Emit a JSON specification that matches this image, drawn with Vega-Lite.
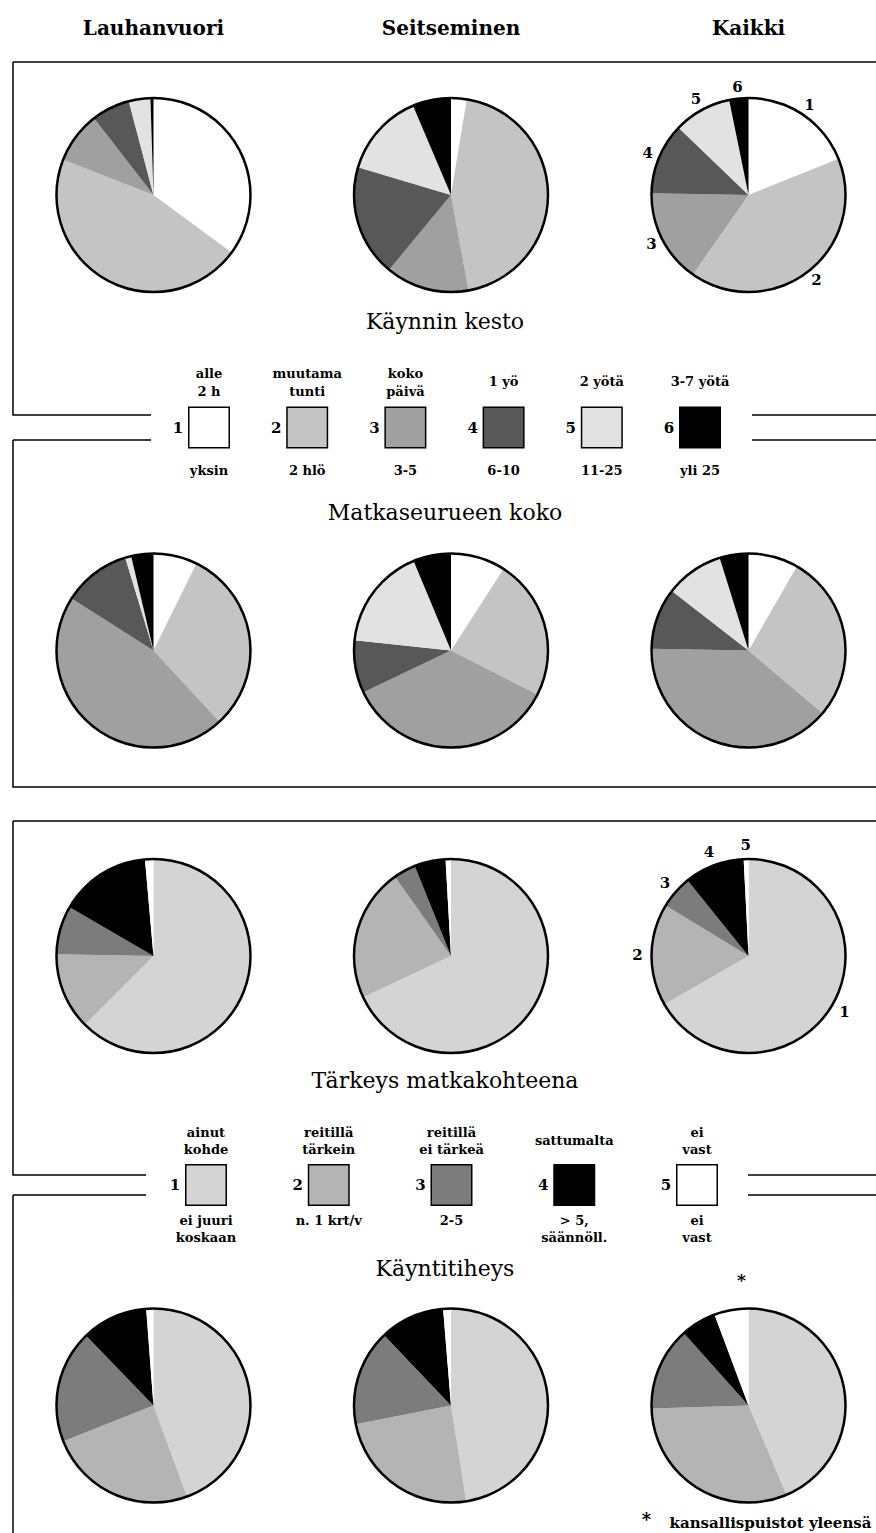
{
  "$schema": "https://vega.github.io/schema/vega-lite/v6.json",
  "padding": {"left": 12, "top": 0, "right": 0, "bottom": 0},
  "bounds": "flush",
  "spacing": 0,
  "config": {"view": {"stroke": null}, "font": "DejaVu Serif"},
  "resolve": {"scale": {"x": "independent", "y": "independent", "color": "independent", "theta": "independent"}},
  "datasets": {
    "kesto": [
      {"site": "Lauhanvuori", "cat": "1", "value": 35.1}, {"site": "Lauhanvuori", "cat": "2", "value": 45.8}, {"site": "Lauhanvuori", "cat": "3", "value": 8.6}, {"site": "Lauhanvuori", "cat": "4", "value": 6.4}, {"site": "Lauhanvuori", "cat": "5", "value": 3.6}, {"site": "Lauhanvuori", "cat": "6", "value": 0.5},
      {"site": "Seitseminen", "cat": "1", "value": 2.6}, {"site": "Seitseminen", "cat": "2", "value": 44.5}, {"site": "Seitseminen", "cat": "3", "value": 13.9}, {"site": "Seitseminen", "cat": "4", "value": 18.6}, {"site": "Seitseminen", "cat": "5", "value": 14.0}, {"site": "Seitseminen", "cat": "6", "value": 6.4},
      {"site": "Kaikki", "cat": "1", "value": 18.9}, {"site": "Kaikki", "cat": "2", "value": 40.8}, {"site": "Kaikki", "cat": "3", "value": 15.6}, {"site": "Kaikki", "cat": "4", "value": 11.9}, {"site": "Kaikki", "cat": "5", "value": 9.6}, {"site": "Kaikki", "cat": "6", "value": 3.2}
    ],
    "seurue": [
      {"site": "Lauhanvuori", "cat": "1", "value": 7.3}, {"site": "Lauhanvuori", "cat": "2", "value": 30.8}, {"site": "Lauhanvuori", "cat": "3", "value": 45.9}, {"site": "Lauhanvuori", "cat": "4", "value": 11.3}, {"site": "Lauhanvuori", "cat": "5", "value": 1.0}, {"site": "Lauhanvuori", "cat": "6", "value": 3.7},
      {"site": "Seitseminen", "cat": "1", "value": 9.1}, {"site": "Seitseminen", "cat": "2", "value": 23.4}, {"site": "Seitseminen", "cat": "3", "value": 35.4}, {"site": "Seitseminen", "cat": "4", "value": 8.8}, {"site": "Seitseminen", "cat": "5", "value": 17.0}, {"site": "Seitseminen", "cat": "6", "value": 6.3},
      {"site": "Kaikki", "cat": "1", "value": 8.3}, {"site": "Kaikki", "cat": "2", "value": 27.9}, {"site": "Kaikki", "cat": "3", "value": 39.1}, {"site": "Kaikki", "cat": "4", "value": 10.2}, {"site": "Kaikki", "cat": "5", "value": 9.7}, {"site": "Kaikki", "cat": "6", "value": 4.8}
    ],
    "tarkeys": [
      {"site": "Lauhanvuori", "cat": "1", "value": 62.5}, {"site": "Lauhanvuori", "cat": "2", "value": 12.8}, {"site": "Lauhanvuori", "cat": "3", "value": 8.1}, {"site": "Lauhanvuori", "cat": "4", "value": 15.2}, {"site": "Lauhanvuori", "cat": "5", "value": 1.4},
      {"site": "Seitseminen", "cat": "1", "value": 68.0}, {"site": "Seitseminen", "cat": "2", "value": 22.2}, {"site": "Seitseminen", "cat": "3", "value": 3.7}, {"site": "Seitseminen", "cat": "4", "value": 5.2}, {"site": "Seitseminen", "cat": "5", "value": 0.9},
      {"site": "Kaikki", "cat": "1", "value": 66.7}, {"site": "Kaikki", "cat": "2", "value": 17.0}, {"site": "Kaikki", "cat": "3", "value": 5.5}, {"site": "Kaikki", "cat": "4", "value": 10.0}, {"site": "Kaikki", "cat": "5", "value": 0.8}
    ],
    "tiheys": [
      {"site": "Lauhanvuori", "cat": "1", "value": 44.4}, {"site": "Lauhanvuori", "cat": "2", "value": 24.6}, {"site": "Lauhanvuori", "cat": "3", "value": 18.8}, {"site": "Lauhanvuori", "cat": "4", "value": 11.0}, {"site": "Lauhanvuori", "cat": "5", "value": 1.2},
      {"site": "Seitseminen", "cat": "1", "value": 47.5}, {"site": "Seitseminen", "cat": "2", "value": 24.4}, {"site": "Seitseminen", "cat": "3", "value": 16.0}, {"site": "Seitseminen", "cat": "4", "value": 10.8}, {"site": "Seitseminen", "cat": "5", "value": 1.3},
      {"site": "Kaikki", "cat": "1", "value": 43.6}, {"site": "Kaikki", "cat": "2", "value": 30.9}, {"site": "Kaikki", "cat": "3", "value": 13.9}, {"site": "Kaikki", "cat": "4", "value": 5.9}, {"site": "Kaikki", "cat": "5", "value": 5.7}
    ],
    "legend1": [
      {"cat": "1", "top": "alle\n2 h", "bottom": "yksin"},
      {"cat": "2", "top": "muutama\ntunti", "bottom": "2 hlö"},
      {"cat": "3", "top": "koko\npäivä", "bottom": "3-5"},
      {"cat": "4", "top": "1 yö", "bottom": "6-10"},
      {"cat": "5", "top": "2 yötä", "bottom": "11-25"},
      {"cat": "6", "top": "3-7 yötä", "bottom": "yli 25"}
    ],
    "legend2": [
      {"cat": "1", "top": "ainut\nkohde", "bottom": "ei juuri\nkoskaan"},
      {"cat": "2", "top": "reitillä\ntärkein", "bottom": "n. 1 krt/v"},
      {"cat": "3", "top": "reitillä\nei tärkeä", "bottom": "2-5"},
      {"cat": "4", "top": "sattumalta", "bottom": "> 5,\nsäännöll."},
      {"cat": "5", "top": "ei\nvast", "bottom": "ei\nvast"}
    ]
  },
  "vconcat": [
    {
      "width": 864, "height": 62,
      "data": {"values": [{"site": "Lauhanvuori"}, {"site": "Seitseminen"}, {"site": "Kaikki"}]},
      "mark": {"type": "text", "fontSize": 20, "fontWeight": "bold", "dy": -2},
      "encoding": {
        "x": {"field": "site", "type": "nominal", "axis": null, "scale": {"type": "point", "domain": ["Lauhanvuori", "Seitseminen", "Kaikki"], "padding": 0.452, "align": 0.5223}},
        "text": {"field": "site"}
      }
    },
    {
      "width": 864, "height": 266,
      "view": {"stroke": "black", "strokeWidth": 1.5, "strokeDash": [864, 1130, 266, 0]},
      "data": {"name": "kesto"},
      "transform": [{"stack": "value", "groupby": ["site"], "sort": [{"field": "cat", "order": "ascending"}], "as": ["v0", "v1"]}],
      "layer": [
        {
          "mark": {"type": "arc", "outerRadius": 97},
          "encoding": {
            "x": {"field": "site", "type": "nominal", "axis": null, "scale": {"type": "point", "domain": ["Lauhanvuori", "Seitseminen", "Kaikki"], "padding": 0.452, "align": 0.5223}},
            "theta": {"field": "v0", "type": "quantitative", "scale": {"domain": [0, 100]}},
            "theta2": {"field": "v1"},
            "color": {"field": "cat", "type": "nominal", "legend": null, "scale": {"domain": ["1", "2", "3", "4", "5", "6"], "range": ["#ffffff", "#c4c4c4", "#a0a0a0", "#585858", "#e2e2e2", "#000000"]}}
          }
        },
        {
          "transform": [{"filter": "datum.cat == '1'"}],
          "mark": {"type": "point", "shape": "circle", "size": 37636, "filled": false, "stroke": "black", "strokeWidth": 2.5, "opacity": 1},
          "encoding": {
            "x": {"field": "site", "type": "nominal", "axis": null, "scale": {"type": "point", "domain": ["Lauhanvuori", "Seitseminen", "Kaikki"], "padding": 0.452, "align": 0.5223}}
          }
        },
        {
          "transform": [{"filter": "datum.site == 'Kaikki'"}],
          "mark": {"type": "text", "radius": 109, "fontSize": 15, "fontWeight": "bold"},
          "encoding": {
            "x": {"field": "site", "type": "nominal", "axis": null, "scale": {"type": "point", "domain": ["Lauhanvuori", "Seitseminen", "Kaikki"], "padding": 0.452, "align": 0.5223}},
            "theta": {"field": "value", "type": "quantitative", "stack": true, "scale": {"domain": [0, 100]}},
            "order": {"field": "cat"},
            "detail": {"field": "cat"},
            "text": {"field": "cat"}
          }
        }
      ]
    },
    {
      "width": 864, "height": 87,
      "view": {"stroke": "black", "strokeWidth": 1.5, "strokeDash": [0, 951, 125, 601, 225, 0]},
      "layer": [
        {
          "data": {"values": [{"t": "Käynnin kesto"}]},
          "mark": {"type": "text", "fontSize": 22, "dy": -50},
          "encoding": {"text": {"field": "t"}}
        },
        {
          "data": {"name": "legend1"},
          "transform": [{"filter": "indexof(datum.top, '\\n') >= 0"}],
          "mark": {"type": "text", "fontSize": 13, "fontWeight": "bold", "lineBreak": "\n", "lineHeight": 18, "dy": 2},
          "encoding": {
            "x": {"field": "cat", "type": "nominal", "axis": null, "scale": {"type": "point", "domain": ["1", "2", "3", "4", "5", "6"], "range": [196, 687], "padding": 0}},
            "text": {"field": "top"}
          }
        },
        {
          "data": {"name": "legend1"},
          "transform": [{"filter": "indexof(datum.top, '\\n') < 0"}],
          "mark": {"type": "text", "fontSize": 13, "fontWeight": "bold", "dy": 10.5},
          "encoding": {
            "x": {"field": "cat", "type": "nominal", "axis": null, "scale": {"type": "point", "domain": ["1", "2", "3", "4", "5", "6"], "range": [196, 687], "padding": 0}},
            "text": {"field": "top"}
          }
        }
      ]
    },
    {
      "width": 864, "height": 25,
      "data": {"name": "legend1"},
      "layer": [
        {
          "mark": {"type": "square", "size": 1640, "filled": true, "stroke": "black", "strokeWidth": 1.5, "opacity": 1},
          "encoding": {
            "x": {"field": "cat", "type": "nominal", "axis": null, "scale": {"type": "point", "domain": ["1", "2", "3", "4", "5", "6"], "range": [196, 687], "padding": 0}},
            "color": {"field": "cat", "type": "nominal", "legend": null, "scale": {"domain": ["1", "2", "3", "4", "5", "6"], "range": ["#ffffff", "#c4c4c4", "#a0a0a0", "#585858", "#e2e2e2", "#000000"]}}
          }
        },
        {
          "mark": {"type": "text", "fontSize": 15, "fontWeight": "bold", "dx": -31},
          "encoding": {
            "x": {"field": "cat", "type": "nominal", "axis": null, "scale": {"type": "point", "domain": ["1", "2", "3", "4", "5", "6"], "range": [196, 687], "padding": 0}},
            "text": {"field": "cat"}
          }
        }
      ]
    },
    {
      "width": 864, "height": 74,
      "view": {"stroke": "black", "strokeWidth": 1.5, "strokeDash": [138, 601, 125, 938, 74, 0]},
      "layer": [
        {
          "data": {"name": "legend1"},
          "mark": {"type": "text", "fontSize": 13, "fontWeight": "bold", "dy": -6},
          "encoding": {
            "x": {"field": "cat", "type": "nominal", "axis": null, "scale": {"type": "point", "domain": ["1", "2", "3", "4", "5", "6"], "range": [196, 687], "padding": 0}},
            "text": {"field": "bottom"}
          }
        },
        {
          "data": {"values": [{"t": "Matkaseurueen koko"}]},
          "mark": {"type": "text", "fontSize": 22, "dy": 36},
          "encoding": {"text": {"field": "t"}}
        }
      ]
    },
    {
      "width": 864, "height": 273,
      "view": {"stroke": "black", "strokeWidth": 1.5, "strokeDash": [0, 1137, 1137, 0]},
      "data": {"name": "seurue"},
      "transform": [{"stack": "value", "groupby": ["site"], "sort": [{"field": "cat", "order": "ascending"}], "as": ["v0", "v1"]}],
      "layer": [
        {
          "mark": {"type": "arc", "outerRadius": 97},
          "encoding": {
            "x": {"field": "site", "type": "nominal", "axis": null, "scale": {"type": "point", "domain": ["Lauhanvuori", "Seitseminen", "Kaikki"], "padding": 0.452, "align": 0.5223}},
            "theta": {"field": "v0", "type": "quantitative", "scale": {"domain": [0, 100]}},
            "theta2": {"field": "v1"},
            "color": {"field": "cat", "type": "nominal", "legend": null, "scale": {"domain": ["1", "2", "3", "4", "5", "6"], "range": ["#ffffff", "#c4c4c4", "#a0a0a0", "#585858", "#e2e2e2", "#000000"]}}
          }
        },
        {
          "transform": [{"filter": "datum.cat == '1'"}],
          "mark": {"type": "point", "shape": "circle", "size": 37636, "filled": false, "stroke": "black", "strokeWidth": 2.5, "opacity": 1},
          "encoding": {
            "x": {"field": "site", "type": "nominal", "axis": null, "scale": {"type": "point", "domain": ["Lauhanvuori", "Seitseminen", "Kaikki"], "padding": 0.452, "align": 0.5223}}
          }
        }
      ]
    },
    {
      "width": 864, "height": 34,
      "data": {"values": [{"t": ""}]},
      "mark": "text",
      "encoding": {"text": {"field": "t"}}
    },
    {
      "width": 864, "height": 270,
      "view": {"stroke": "black", "strokeWidth": 1.5, "strokeDash": [864, 1134, 270, 0]},
      "data": {"name": "tarkeys"},
      "transform": [{"stack": "value", "groupby": ["site"], "sort": [{"field": "cat", "order": "ascending"}], "as": ["v0", "v1"]}],
      "layer": [
        {
          "mark": {"type": "arc", "outerRadius": 97},
          "encoding": {
            "x": {"field": "site", "type": "nominal", "axis": null, "scale": {"type": "point", "domain": ["Lauhanvuori", "Seitseminen", "Kaikki"], "padding": 0.452, "align": 0.5223}},
            "theta": {"field": "v0", "type": "quantitative", "scale": {"domain": [0, 100]}},
            "theta2": {"field": "v1"},
            "color": {"field": "cat", "type": "nominal", "legend": null, "scale": {"domain": ["1", "2", "3", "4", "5"], "range": ["#d4d4d4", "#b4b4b4", "#7c7c7c", "#000000", "#ffffff"]}}
          }
        },
        {
          "transform": [{"filter": "datum.cat == '1'"}],
          "mark": {"type": "point", "shape": "circle", "size": 37636, "filled": false, "stroke": "black", "strokeWidth": 2.5, "opacity": 1},
          "encoding": {
            "x": {"field": "site", "type": "nominal", "axis": null, "scale": {"type": "point", "domain": ["Lauhanvuori", "Seitseminen", "Kaikki"], "padding": 0.452, "align": 0.5223}}
          }
        },
        {
          "transform": [{"filter": "datum.site == 'Kaikki'"}],
          "mark": {"type": "text", "radius": 111, "fontSize": 15, "fontWeight": "bold"},
          "encoding": {
            "x": {"field": "site", "type": "nominal", "axis": null, "scale": {"type": "point", "domain": ["Lauhanvuori", "Seitseminen", "Kaikki"], "padding": 0.452, "align": 0.5223}},
            "theta": {"field": "value", "type": "quantitative", "stack": true, "scale": {"domain": [0, 100]}},
            "order": {"field": "cat"},
            "detail": {"field": "cat"},
            "text": {"field": "cat"}
          }
        }
      ]
    },
    {
      "width": 864, "height": 84,
      "view": {"stroke": "black", "strokeWidth": 1.5, "strokeDash": [0, 948, 129, 602, 217, 0]},
      "layer": [
        {
          "data": {"values": [{"t": "Tärkeys matkakohteena"}]},
          "mark": {"type": "text", "fontSize": 22, "dy": -52},
          "encoding": {"text": {"field": "t"}}
        },
        {
          "data": {"name": "legend2"},
          "transform": [{"filter": "indexof(datum.top, '\\n') >= 0"}],
          "mark": {"type": "text", "fontSize": 13, "fontWeight": "bold", "lineBreak": "\n", "lineHeight": 17, "dy": 0},
          "encoding": {
            "x": {"field": "cat", "type": "nominal", "axis": null, "scale": {"type": "point", "domain": ["1", "2", "3", "4", "5"], "range": [193, 684], "padding": 0}},
            "text": {"field": "top"}
          }
        },
        {
          "data": {"name": "legend2"},
          "transform": [{"filter": "indexof(datum.top, '\\n') < 0"}],
          "mark": {"type": "text", "fontSize": 13, "fontWeight": "bold", "dy": 8},
          "encoding": {
            "x": {"field": "cat", "type": "nominal", "axis": null, "scale": {"type": "point", "domain": ["1", "2", "3", "4", "5"], "range": [193, 684], "padding": 0}},
            "text": {"field": "top"}
          }
        }
      ]
    },
    {
      "width": 864, "height": 20,
      "data": {"name": "legend2"},
      "layer": [
        {
          "mark": {"type": "square", "size": 1640, "filled": true, "stroke": "black", "strokeWidth": 1.5, "opacity": 1},
          "encoding": {
            "x": {"field": "cat", "type": "nominal", "axis": null, "scale": {"type": "point", "domain": ["1", "2", "3", "4", "5"], "range": [193, 684], "padding": 0}},
            "color": {"field": "cat", "type": "nominal", "legend": null, "scale": {"domain": ["1", "2", "3", "4", "5"], "range": ["#d4d4d4", "#b4b4b4", "#7c7c7c", "#000000", "#ffffff"]}}
          }
        },
        {
          "mark": {"type": "text", "fontSize": 15, "fontWeight": "bold", "dx": -31},
          "encoding": {
            "x": {"field": "cat", "type": "nominal", "axis": null, "scale": {"type": "point", "domain": ["1", "2", "3", "4", "5"], "range": [193, 684], "padding": 0}},
            "text": {"field": "cat"}
          }
        }
      ]
    },
    {
      "width": 864, "height": 95,
      "view": {"stroke": "black", "strokeWidth": 1.5, "strokeDash": [133, 602, 129, 959, 95, 0]},
      "resolve": {"scale": {"x": "independent"}},
      "layer": [
        {
          "data": {"name": "legend2"},
          "mark": {"type": "text", "fontSize": 13, "fontWeight": "bold", "lineBreak": "\n", "lineHeight": 17, "dy": -22},
          "encoding": {
            "x": {"field": "cat", "type": "nominal", "axis": null, "scale": {"type": "point", "domain": ["1", "2", "3", "4", "5"], "range": [193, 684], "padding": 0}},
            "text": {"field": "bottom"}
          }
        },
        {
          "data": {"values": [{"t": "Käyntitiheys"}]},
          "mark": {"type": "text", "fontSize": 22, "dy": 26},
          "encoding": {"text": {"field": "t"}}
        },
        {
          "data": {"values": [{"site": "Kaikki", "t": "*"}]},
          "mark": {"type": "text", "fontSize": 17, "fontWeight": "bold", "dx": -7, "dy": 38},
          "encoding": {
            "x": {"field": "site", "type": "nominal", "axis": null, "scale": {"type": "point", "domain": ["Lauhanvuori", "Seitseminen", "Kaikki"], "padding": 0.452, "align": 0.5223}},
            "text": {"field": "t"}
          }
        }
      ]
    },
    {
      "width": 864, "height": 231,
      "view": {"stroke": "black", "strokeWidth": 1.5, "strokeDash": [0, 1959, 231, 0]},
      "data": {"name": "tiheys"},
      "transform": [{"stack": "value", "groupby": ["site"], "sort": [{"field": "cat", "order": "ascending"}], "as": ["v0", "v1"]}],
      "layer": [
        {
          "mark": {"type": "arc", "outerRadius": 97},
          "encoding": {
            "x": {"field": "site", "type": "nominal", "axis": null, "scale": {"type": "point", "domain": ["Lauhanvuori", "Seitseminen", "Kaikki"], "padding": 0.452, "align": 0.5223}},
            "theta": {"field": "v0", "type": "quantitative", "scale": {"domain": [0, 100]}},
            "theta2": {"field": "v1"},
            "color": {"field": "cat", "type": "nominal", "legend": null, "scale": {"domain": ["1", "2", "3", "4", "5"], "range": ["#d4d4d4", "#b4b4b4", "#7c7c7c", "#000000", "#ffffff"]}}
          }
        },
        {
          "transform": [{"filter": "datum.cat == '1'"}],
          "mark": {"type": "point", "shape": "circle", "size": 37636, "filled": false, "stroke": "black", "strokeWidth": 2.5, "opacity": 1},
          "encoding": {
            "x": {"field": "site", "type": "nominal", "axis": null, "scale": {"type": "point", "domain": ["Lauhanvuori", "Seitseminen", "Kaikki"], "padding": 0.452, "align": 0.5223}}
          }
        }
      ]
    },
    {
      "width": 864, "height": 12,
      "view": {"stroke": "black", "strokeWidth": 1.5, "strokeDash": [0, 1740, 12, 0]},
      "data": {"values": [{"site": "Kaikki", "star": "*", "t": "kansallispuistot yleensä"}]},
      "layer": [
        {
          "mark": {"type": "text", "fontSize": 18, "fontWeight": "bold", "dx": -102, "dy": -6},
          "encoding": {
            "x": {"field": "site", "type": "nominal", "axis": null, "scale": {"type": "point", "domain": ["Lauhanvuori", "Seitseminen", "Kaikki"], "padding": 0.452, "align": 0.5223}},
            "text": {"field": "star"}
          }
        },
        {
          "mark": {"type": "text", "fontSize": 15, "fontWeight": "bold", "dx": 22, "dy": -4},
          "encoding": {
            "x": {"field": "site", "type": "nominal", "axis": null, "scale": {"type": "point", "domain": ["Lauhanvuori", "Seitseminen", "Kaikki"], "padding": 0.452, "align": 0.5223}},
            "text": {"field": "t"}
          }
        }
      ]
    }
  ]
}
